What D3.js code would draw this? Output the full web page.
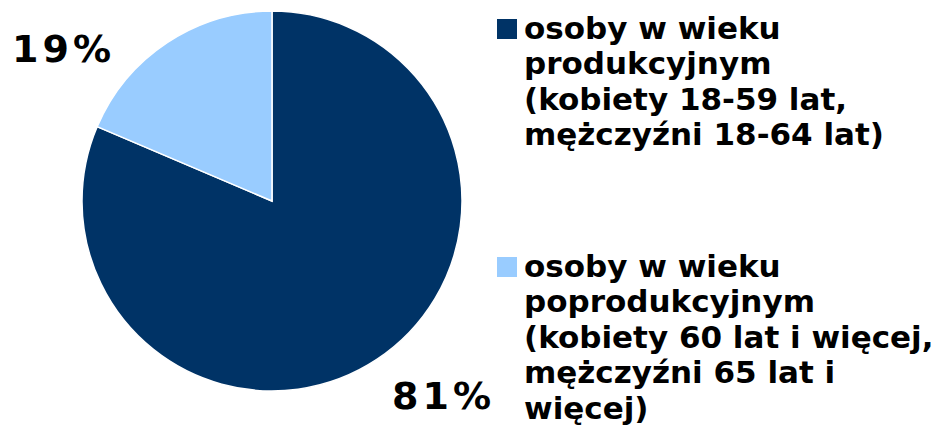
<!DOCTYPE html>
<html>
<head>
<meta charset="utf-8">
<script src="https://cdn.jsdelivr.net/npm/d3@7"></script>
<style>
  body { margin: 0; background: #fff; }
  text { font-family: "DejaVu Sans", Verdana, sans-serif; font-weight: bold; fill: #000; }
</style>
</head>
<body>
<div id="chart"></div>
<script>
const categories = [
  ["osoby w wieku", "produkcyjnym", "(kobiety 18-59 lat,", "mężczyźni 18-64 lat)"],
  ["osoby w wieku", "poprodukcyjnym", "(kobiety 60 lat i więcej,", "mężczyźni 65 lat i", "więcej)"]
];
const values = [81.4, 18.6];
const labels = ["81%", "19%"];
const colors = ["#003366", "#99ccff"];

const width = 933, height = 426;
const cx = 272, cy = 201, radius = 190;

const svg = d3.select("#chart").append("svg")
  .attr("width", width)
  .attr("height", height);

const pie = d3.pie().sort(null).value(d => d);
const arcs = pie(values);
const arc = d3.arc().innerRadius(0).outerRadius(radius);

const g = svg.append("g").attr("transform", `translate(${cx},${cy})`);

g.selectAll("path")
  .data(arcs)
  .join("path")
  .attr("d", arc)
  .attr("fill", (d, i) => colors[i])
  .attr("stroke", "#fff")
  .attr("stroke-width", 1.5);

// percent labels placed outside the pie
const labelPos = [[120, 208], [-260, -139]];
g.selectAll(".pct")
  .data(labels)
  .join("text")
  .attr("class", "pct")
  .attr("x", (d, i) => labelPos[i][0])
  .attr("y", (d, i) => labelPos[i][1])
  .style("font-size", "38px")
  .style("letter-spacing", "4px")
  .text(d => d);

// legend
const legendTop = [39, 277];
const lineH = 35.4;
const legend = svg.selectAll(".legend")
  .data(categories)
  .join("g")
  .attr("class", "legend")
  .attr("transform", (d, i) => `translate(497,${legendTop[i]})`);

legend.append("rect")
  .attr("x", 0)
  .attr("y", -20)
  .attr("width", 20)
  .attr("height", 20)
  .attr("fill", (d, i) => colors[i]);

legend.append("text")
  .style("font-size", "31px")
  .selectAll("tspan")
  .data(d => d)
  .join("tspan")
  .attr("x", 27)
  .attr("y", (d, i) => i * lineH)
  .text(d => d);
</script>
</body>
</html>
